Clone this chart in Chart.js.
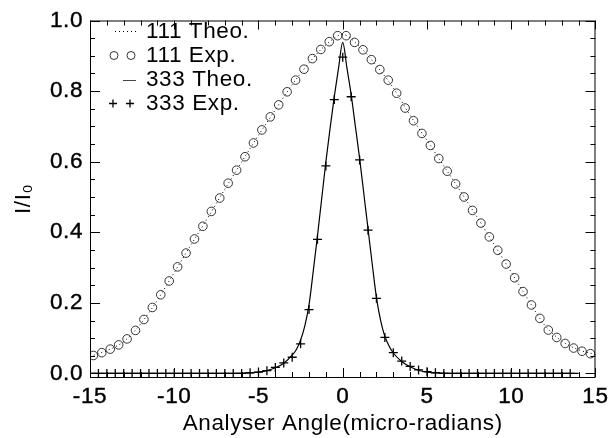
<!DOCTYPE html>
<html>
<head>
<meta charset="utf-8">
<script src="https://cdn.jsdelivr.net/npm/chart.js@4/dist/chart.umd.min.js"></script>
<style>
  html, body { margin: 0; padding: 0; background: #fff; }
  canvas { display: block; }
</style>
</head>
<body>
<canvas id="plot" width="614" height="438"></canvas>
<script>
// 111 reflexion, experimental points (circles)
const exp111X = [-14.8, -14.3, -13.8, -13.3, -12.8, -12.3, -11.8, -11.3, -10.8, -10.3,
  -9.8, -9.3, -8.8, -8.3, -7.8, -7.3, -6.8, -6.3, -5.8, -5.3,
  -4.8, -4.3, -3.8, -3.3, -2.8, -2.3, -1.8, -1.3, -0.8, -0.3,
  0.2, 0.7, 1.2, 1.7, 2.2, 2.7, 3.2, 3.7, 4.2, 4.7,
  5.2, 5.7, 6.2, 6.7, 7.2, 7.7, 8.2, 8.7, 9.2, 9.7,
  10.2, 10.7, 11.2, 11.7, 12.2, 12.7, 13.2, 13.7, 14.2, 14.7];
const exp111Y = [0.051, 0.059, 0.069, 0.081, 0.098, 0.122, 0.153, 0.187, 0.223, 0.262,
  0.302, 0.341, 0.381, 0.417, 0.459, 0.497, 0.539, 0.576, 0.614, 0.653,
  0.690, 0.727, 0.761, 0.798, 0.831, 0.862, 0.892, 0.918, 0.940, 0.957,
  0.957, 0.938, 0.917, 0.889, 0.861, 0.831, 0.794, 0.752, 0.716, 0.680,
  0.646, 0.609, 0.573, 0.537, 0.500, 0.462, 0.426, 0.387, 0.349, 0.310,
  0.271, 0.232, 0.194, 0.156, 0.123, 0.102, 0.085, 0.072, 0.063, 0.056];

// 111 theory (dotted)
const theo111X = [-15, -14, -13, -12, -11, -10, -9, -8, -7, -6, -5, -4, -3, -2, -1, 0,
  1, 2, 3, 4, 5, 6, 7, 8, 9, 10, 11, 12, 13, 14, 15];
const theo111Y = [0.048, 0.065, 0.090, 0.140, 0.208, 0.286, 0.365, 0.442, 0.522, 0.599, 0.675, 0.747, 0.818, 0.880, 0.931, 0.960,
  0.926, 0.872, 0.809, 0.731, 0.660, 0.588, 0.515, 0.441, 0.364, 0.287, 0.209, 0.136, 0.092, 0.067, 0.054];

// 333 reflexion, experimental points (crosses)
const exp333X = [-15, -14.5, -14, -13.5, -13, -12.5, -12, -11.5, -11, -10.5, -10, -9.5, -9, -8.5, -8, -7.5, -7, -6.5, -6,
  -5.5, -5, -4.5, -4, -3.5, -3, -2.5, -2, -1.5, -1, -0.5, 0, 0.5, 1, 1.5, 2, 2.5, 3, 3.5, 4, 4.5, 5, 5.5,
  6, 6.5, 7, 7.5, 8, 8.5, 9, 9.5, 10, 10.5, 11, 11.5, 12, 12.5, 13, 13.5];
const exp333Y = [0, 0, 0, 0, 0, 0, 0, 0, 0, 0, 0, 0, 0, 0, 0, 0, 0, 0, 0,
  0.002, 0.004, 0.008, 0.017, 0.030, 0.046, 0.084, 0.181, 0.380, 0.588, 0.776, 0.896, 0.784, 0.605, 0.406, 0.213, 0.102, 0.059, 0.035, 0.020, 0.010, 0.005, 0.002,
  0, 0, 0, 0, 0, 0, 0, 0, 0, 0, 0, 0, 0, 0, 0, 0];

// 333 theory (solid)
const theo333X = [-15, -8, -6, -5, -4.5, -4, -3.5, -3, -2.75, -2.5, -2.25, -2, -1.75, -1.5, -1.25, -1, -0.75, -0.5, -0.25, 0,
  0.25, 0.5, 0.75, 1, 1.25, 1.5, 1.75, 2, 2.25, 2.5, 2.75, 3, 3.5, 4, 4.5, 5, 6, 8, 14];
const theo333Y = [0, 0, 0.001, 0.004, 0.008, 0.016, 0.029, 0.052, 0.068, 0.095, 0.135, 0.195, 0.29, 0.39, 0.495, 0.6, 0.695, 0.785, 0.865, 0.938,
  0.865, 0.79, 0.7, 0.61, 0.51, 0.41, 0.31, 0.215, 0.15, 0.105, 0.078, 0.058, 0.034, 0.019, 0.009, 0.004, 0.001, 0, 0];

const xTicks = [-15, -10, -5, 0, 5, 10, 15];
const yTicks = [0.0, 0.2, 0.4, 0.6, 0.8, 1.0];
const legendLabels = ['111 Theo.', '111 Exp.', '333 Theo.', '333 Exp.'];

const FONT = 'Liberation Sans, Arial, Helvetica, sans-serif';
const FSIZE = 22.5;

let punti = (xs, ys) => xs.map((x, i) => ({x: x, y: ys[i]}));

// a little wider text spacing, like the original plot
let spaziatura = {
  id: 'spaziatura',
  beforeDraw(chart) {
    chart.ctx.letterSpacing = '0.6px';
  }
};

// ticks pointing inwards on all four sides, plus the legend
let ticksDentro = {
  id: 'ticksDentro',
  afterDraw(chart) {
    const ctx = chart.ctx;
    const a = chart.chartArea;
    const sx = chart.scales.x;
    const sy = chart.scales.y;
    ctx.save();
    ctx.strokeStyle = '#000';
    ctx.lineWidth = 1;
    ctx.beginPath();
    for (let v = -15; v <= 15; v++) {
      const px = Math.round(sx.getPixelForValue(v)) + 0.5;
      const len = (v % 5 === 0) ? 9 : 5;
      ctx.moveTo(px, a.bottom); ctx.lineTo(px, a.bottom - len);
      ctx.moveTo(px, a.top); ctx.lineTo(px, a.top + len);
    }
    for (let k = 0; k <= 20; k++) {
      const v = k * 0.05;
      const py = Math.round(sy.getPixelForValue(v)) + 0.5;
      const len = (k % 4 === 0) ? 10 : 5;
      ctx.moveTo(a.left, py); ctx.lineTo(a.left + len, py);
      ctx.moveTo(a.right, py); ctx.lineTo(a.right - len, py);
    }
    ctx.stroke();
    ctx.strokeRect(a.left + 0.5, a.top + 0.5, a.right - a.left - 1, a.bottom - a.top);

    // legend
    const tx = 146;
    const rows = [38, 62, 86, 110];
    ctx.fillStyle = '#000';
    ctx.font = FSIZE + 'px ' + FONT;
    ctx.textBaseline = 'alphabetic';
    legendLabels.forEach((t, i) => ctx.fillText(t, tx, rows[i]));

    ctx.lineWidth = 1;
    ctx.setLineDash([1, 3]);
    ctx.beginPath(); ctx.moveTo(115, 31.5); ctx.lineTo(137, 31.5); ctx.stroke();
    ctx.setLineDash([]);
    ctx.strokeStyle = '#333';
    [114, 131].forEach(cx => { ctx.beginPath(); ctx.arc(cx, 55.5, 4, 0, Math.PI * 2); ctx.stroke(); });
    ctx.strokeStyle = '#444';
    ctx.beginPath(); ctx.moveTo(123, 80.5); ctx.lineTo(136, 80.5); ctx.stroke();
    ctx.strokeStyle = '#000';
    ctx.lineWidth = 1.3;
    [113, 130].forEach(cx => {
      ctx.beginPath();
      ctx.moveTo(cx - 4, 103.5); ctx.lineTo(cx + 4, 103.5);
      ctx.moveTo(cx, 99.5); ctx.lineTo(cx, 107.5);
      ctx.stroke();
    });
    ctx.restore();
  }
};

let cargarGrafico = () => {
  let plotRef = document.getElementById('plot');

  let config = {
    type: 'scatter',
    data: {
      datasets: [
        {
          label: '111 Theo.',
          data: punti(theo111X, theo111Y),
          showLine: true,
          borderColor: '#000',
          borderWidth: 1,
          borderDash: [1, 3],
          pointRadius: 0,
          cubicInterpolationMode: 'monotone'
        },
        {
          label: '111 Exp.',
          data: punti(exp111X, exp111Y),
          showLine: false,
          pointStyle: 'circle',
          pointRadius: 4.3,
          borderColor: '#333',
          borderWidth: 1,
          backgroundColor: 'rgba(0,0,0,0)'
        },
        {
          label: '333 Theo.',
          data: punti(theo333X, theo333Y),
          showLine: true,
          borderColor: '#000',
          borderWidth: 1.2,
          pointRadius: 0,
          cubicInterpolationMode: 'monotone'
        },
        {
          label: '333 Exp.',
          data: punti(exp333X, exp333Y),
          showLine: false,
          pointStyle: 'cross',
          pointRadius: 4.5,
          borderColor: '#000',
          borderWidth: 1.3
        }
      ]
    },
    options: {
      responsive: false,
      animation: false,
      layout: { padding: { left: 0, right: 15, top: 13, bottom: 0 } },
      plugins: {
        legend: { display: false },
        tooltip: { enabled: false }
      },
      scales: {
        x: {
          type: 'linear',
          min: -15,
          max: 15,
          afterFit: s => { s.height = 61; },
          afterBuildTicks: s => { s.ticks = xTicks.map(v => ({value: v})); },
          grid: { display: true, drawOnChartArea: false, drawTicks: false, color: 'rgba(0,0,0,0)' },
          border: { display: false },
          ticks: {
            padding: 6,
            color: '#000',
            font: { family: FONT, size: FSIZE },
            maxRotation: 0,
            autoSkip: false,
            textStrokeColor: '#000',
            textStrokeWidth: 0.4,
            callback: v => String(v)
          },
          title: {
            display: true,
            text: 'Analyser Angle(micro-radians)',
            color: '#000',
            font: { family: FONT, size: FSIZE },
            padding: { top: 0, bottom: 1 }
          }
        },
        y: {
          type: 'linear',
          min: -0.01,
          max: 1.0,
          bounds: 'data',
          afterFit: s => { s.width = 90; },
          afterBuildTicks: s => { s.ticks = yTicks.map(v => ({value: v})); },
          grid: { display: true, drawOnChartArea: false, drawTicks: false, color: 'rgba(0,0,0,0)' },
          border: { display: false },
          ticks: {
            padding: 7,
            color: '#000',
            font: { family: FONT, size: FSIZE },
            autoSkip: false,
            textStrokeColor: '#000',
            textStrokeWidth: 0.4,
            callback: v => v.toFixed(1)
          },
          title: {
            display: true,
            text: 'I/I\u2080',
            color: '#000',
            font: { family: FONT, size: FSIZE },
            padding: { top: 10, bottom: 0 }
          }
        }
      }
    },
    plugins: [spaziatura, ticksDentro]
  };

  let chart = new Chart(plotRef, config);
};

cargarGrafico();
</script>
</body>
</html>
